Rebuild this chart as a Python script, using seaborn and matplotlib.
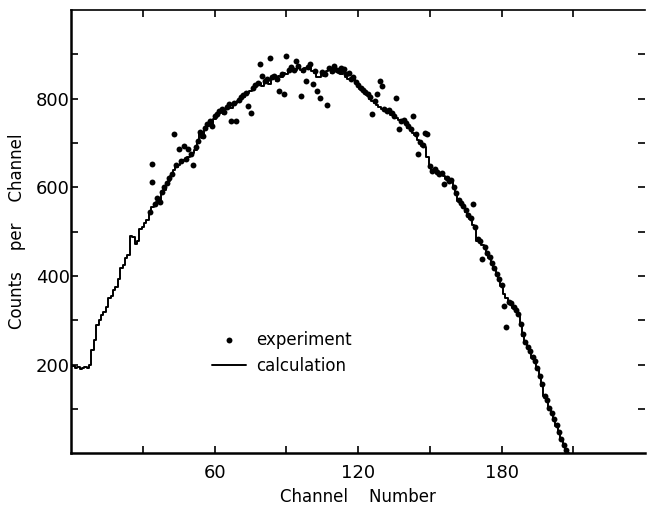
import numpy as np
import pandas as pd
import matplotlib
matplotlib.use("Agg")
import matplotlib.pyplot as plt
import seaborn as sns

# calculated spectrum, one value per channel (0..208)
calc_counts = [
    198, 196, 192, 194, 190, 192, 195, 193, 200, 232,
    255, 290, 300, 312, 318, 330, 350, 355, 368, 375,
    392, 418, 425, 440, 448, 490, 488, 472, 480, 505,
    510, 520, 526, 540, 556, 560, 566, 572, 585, 595,
    605, 615, 625, 640, 645, 650, 655, 662, 660, 668,
    672, 678, 684, 700, 720, 712, 730, 738, 745, 740,
    755, 760, 768, 772, 765, 778, 782, 780, 786, 790,
    795, 800, 804, 808, 812, 818, 822, 826, 830, 835,
    828, 838, 842, 834, 845, 848, 840, 852, 848, 858,
    855, 860, 868, 862, 865, 872, 866, 860, 870, 868,
    874, 862, 858, 850, 848, 856, 852, 862, 866, 858,
    870, 862, 860, 855, 864, 850, 845, 842, 846, 836,
    830, 822, 818, 812, 808, 800, 796, 790, 786, 782,
    778, 775, 770, 772, 764, 760, 756, 752, 748, 750,
    742, 735, 730, 722, 718, 706, 700, 694, 690, 668,
    645, 636, 640, 632, 628, 630, 625, 618, 612, 614,
    598, 585, 570, 562, 555, 545, 535, 528, 515, 508,
    480, 476, 470, 462, 450, 440, 428, 415, 402, 390,
    378, 360, 350, 340, 336, 328, 320, 312, 290, 265,
    250, 238, 228, 215, 205, 190, 172, 152, 128, 118,
    100, 88, 75, 62, 45, 30, 15, 5, 0,
]
calc_channel = list(range(len(calc_counts)))

# measured points
exp_channel = list(range(33, 208)) + [34]
exp_counts = [
    545, 653, 562, 575, 568, 590, 600, 610, 622, 630,
    720, 650, 687, 660, 694, 665, 687, 675, 651, 690,
    705, 725, 715, 735, 742, 750, 738, 760, 765, 772,
    778, 770, 782, 788, 750, 790, 750, 798, 804, 808,
    812, 784, 768, 825, 830, 835, 878, 851, 840, 845,
    892, 848, 852, 845, 817, 855, 811, 896, 865, 872,
    866, 885, 875, 806, 865, 840, 872, 878, 833, 862,
    818, 802, 860, 855, 786, 870, 862, 875, 866, 862,
    869, 868, 855, 858, 845, 850, 838, 832, 825, 820,
    815, 810, 804, 766, 794, 811, 840, 829, 778, 772,
    775, 768, 762, 802, 732, 750, 752, 745, 738, 732,
    762, 720, 675, 702, 696, 723, 720, 648, 638, 642,
    634, 630, 632, 608, 620, 614, 616, 600, 588, 572,
    565, 558, 548, 538, 530, 563, 510, 484, 478, 439,
    465, 452, 442, 430, 418, 405, 392, 380, 333, 284,
    342, 338, 330, 324, 314, 292, 268, 252, 240, 230,
    218, 208, 192, 175, 155, 130, 120, 102, 90, 78,
    64, 48, 32, 18, 8,
    612,
]

calc = pd.DataFrame({"channel": calc_channel, "counts": calc_counts})
exp = pd.DataFrame({"channel": exp_channel, "counts": exp_counts})

sns.set_style("ticks")
plt.rcParams["font.family"] = ["DejaVu Sans"]
plt.rcParams["text.color"] = "black"

fig = plt.figure(figsize=(6.47, 5.08), dpi=100)
ax = fig.add_axes([0.110, 0.108, 0.887, 0.872])

sns.lineplot(data=calc, x="channel", y="counts", estimator=None,
             drawstyle="steps-mid", color="black", linewidth=1.4,
             label="calculation", ax=ax)
sns.scatterplot(data=exp, x="channel", y="counts", color="black", s=18,
                linewidth=0, label="experiment", ax=ax)

ax.set_xlim(0, 240)
ax.set_ylim(0, 1000)

ax.set_xticks(range(30, 240, 30))
ax.set_xticklabels(["" if v % 60 else str(v) for v in range(30, 240, 30)])
ax.set_yticks(range(100, 1000, 100))
ax.set_yticklabels([str(v) if v in (200, 400, 600, 800) else "" for v in range(100, 1000, 100)])

ax.tick_params(direction="in", length=5, width=1.2, labelsize=13,
               top=True, right=True, colors="black")
ax.tick_params(axis="y", pad=1)
ax.tick_params(axis="x", pad=8)

for s in ["left", "bottom", "top"]:
    ax.spines[s].set_color("black")
for s in ["left", "bottom"]:
    ax.spines[s].set_linewidth(1.8)
ax.spines["top"].set_linewidth(1.2)
ax.spines["right"].set_visible(False)

ax.set_xlabel("Channel    Number", fontsize=12, labelpad=4, color="black")
ax.set_ylabel("Counts    per    Channel", fontsize=12, labelpad=7, color="black")

h, l = ax.get_legend_handles_labels()
leg = ax.legend(h[::-1], l[::-1], frameon=False, loc="upper left",
                bbox_to_anchor=(0.22, 0.31), fontsize=12, handlelength=2.0,
                labelspacing=0.5, handletextpad=0.6)
for t in leg.get_texts():
    t.set_color("black")

fig.savefig("out.png", dpi=100)
